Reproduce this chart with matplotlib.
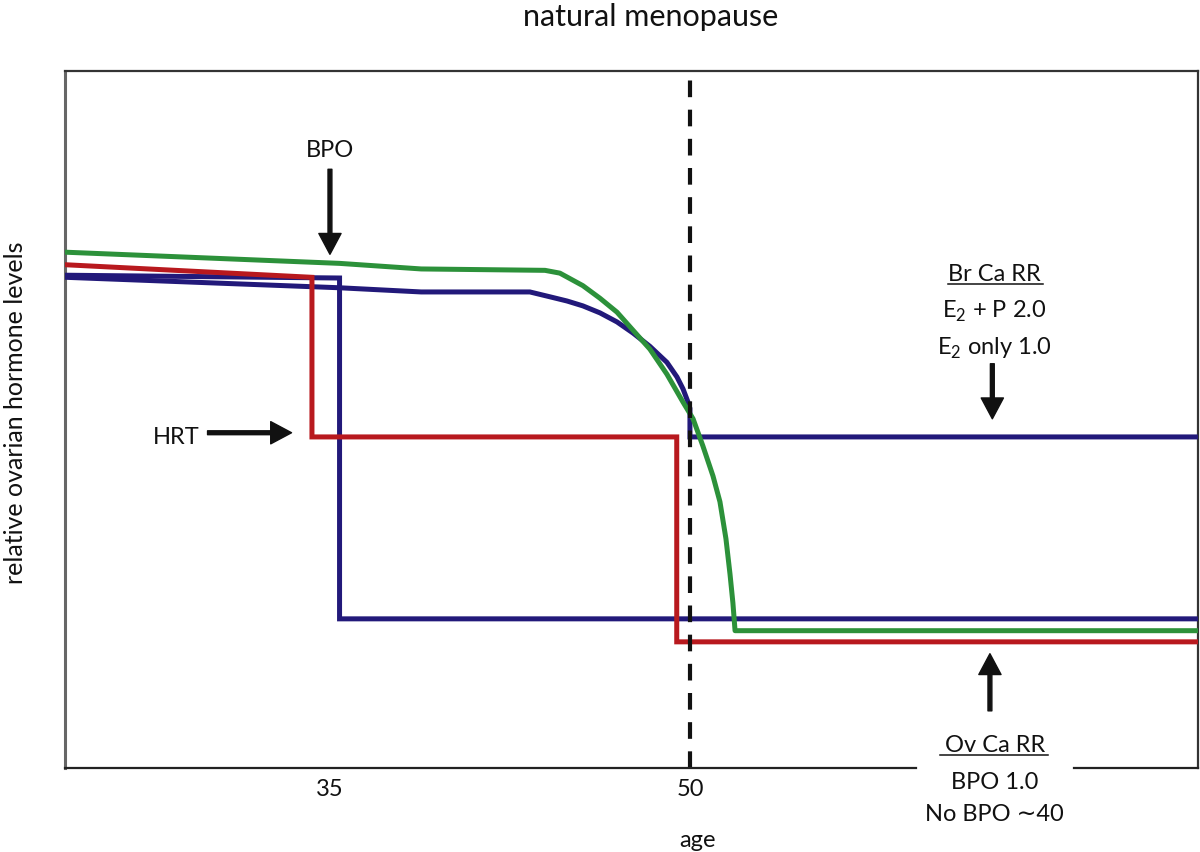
import matplotlib
matplotlib.use("Agg")
import matplotlib.pyplot as plt

plt.rcParams['font.family'] = ['Lato', 'DejaVu Sans']
plt.rcParams['mathtext.fontset'] = 'custom'
plt.rcParams['mathtext.rm'] = 'Lato'
plt.rcParams['lines.scale_dashes'] = False

# age (years) vs relative ovarian hormone level (0-100)
green_age = [24.0, 35.4, 38.8, 43.96, 44.58, 45.54, 46.25, 46.96, 47.63, 48.33, 49.04,
             49.71, 50.13, 50.54, 50.96, 51.25, 51.5, 51.67, 51.79, 51.88, 71.2]
green_lvl = [74.0, 72.4, 71.6, 71.4, 71.0, 69.2, 67.4, 65.4, 62.8, 60.1, 56.5,
             52.5, 50.1, 46.2, 41.9, 38.2, 32.9, 27.8, 23.7, 19.7, 19.7]

blue_nat_age = [24.0, 35.4, 38.8, 43.33, 44.17, 44.88, 45.54, 46.25, 46.96, 47.63, 48.33,
                49.04, 49.46, 49.71, 49.92, 50.0, 50.0, 71.2]
blue_nat_lvl = [70.4, 68.9, 68.3, 68.3, 67.6, 67.0, 66.3, 65.3, 64.0, 62.4, 60.5,
                58.2, 56.1, 54.4, 52.5, 51.6, 47.5, 47.5]

blue_bpo_age = [24.0, 35.4, 35.4, 71.2]
blue_bpo_lvl = [70.7, 70.3, 21.4, 21.4]

red_age = [24.0, 34.25, 34.25, 49.45, 49.45, 71.2]
red_lvl = [72.2, 70.4, 47.5, 47.5, 18.1, 18.1]

menopause_age = 50
tick_ages = [35, 50]

GREEN = '#2C913A'
BLUE = '#22197A'
RED = '#B8191E'

fig = plt.figure(figsize=(12, 8.53), dpi=100)
ax = fig.add_axes([65 / 1200, 84 / 853, 1133 / 1200, 697 / 853])
ax.set_xlim(23.96, 71.17)
ax.set_ylim(0, 100)

lw = 3.6
ax.plot(blue_nat_age, blue_nat_lvl, color=BLUE, lw=lw, solid_joinstyle='miter', zorder=3)
ax.plot(blue_bpo_age, blue_bpo_lvl, color=BLUE, lw=lw, solid_joinstyle='miter', zorder=3)
ax.plot(red_age, red_lvl, color=RED, lw=lw, solid_joinstyle='miter', zorder=4)
ax.plot(green_age, green_lvl, color=GREEN, lw=lw, solid_joinstyle='round', zorder=5)

ax.axvline(menopause_age, color='#111111', lw=3, dashes=(12, 9), zorder=6)

# axes frame
for side in ['top', 'right']:
    ax.spines[side].set_color('#333333')
    ax.spines[side].set_linewidth(1.6)
ax.spines['left'].set_color('#666666')
ax.spines['left'].set_linewidth(2.2)
ax.spines['bottom'].set_visible(False)
xmin, xmax = ax.get_xlim()
for seg in ([xmin, 59.4], [66.0, xmax]):
    ax.plot(seg, [0, 0], color='#222222', lw=1.6, clip_on=False, zorder=7)

ax.set_xticks(tick_ages)
ax.set_xticklabels([str(a) for a in tick_ages])
ax.set_yticks([])
ax.tick_params(axis='x', length=0, pad=7, labelsize=17, labelcolor='#111111')

ax.set_xlabel('age', fontsize=17, color='#111111')
ax.xaxis.set_label_coords(0.558, -0.088)
ax.set_ylabel('relative ovarian hormone levels', fontsize=18, color='#111111', va='center')
ax.yaxis.set_label_coords(-0.044, 0.511)

fig.text(651 / 1200, 1 - 26 / 853, 'natural menopause', ha='center', va='baseline',
         fontsize=22, color='#111111')

arrow = dict(width=2.8, headwidth=16, headlength=15, color='#111111', shrink=0)
txt = dict(fontsize=17, color='#111111', ha='center', va='center')

# BPO
ax.text(35.0, 88.8, 'BPO', **txt)
ax.annotate('', xy=(35.0, 73.7), xytext=(35.0, 85.9), arrowprops=arrow)

# HRT
ax.text(28.6, 47.6, 'HRT', **txt)
ax.annotate('', xy=(33.4, 48.1), xytext=(29.9, 48.1), arrowprops=arrow)

# breast cancer relative risk
ax.text(62.7, 70.9, 'Br Ca RR', **txt)
ax.plot([60.75, 64.7], [69.5, 69.5], color='#111111', lw=1.1)
ax.text(62.7, 65.6, r'E$_{2}$ + P 2.0', **txt)
ax.text(62.7, 60.4, r'E$_{2}$ only 1.0', **txt)
ax.annotate('', xy=(62.6, 50.1), xytext=(62.6, 58.0), arrowprops=arrow)

# ovarian cancer relative risk
ax.annotate('', xy=(62.5, 16.4), xytext=(62.5, 8.2), arrowprops=arrow)
ax.text(62.7, 3.4, 'Ov Ca RR', **txt)
ax.plot([60.4, 64.9], [1.9, 1.9], color='#111111', lw=1.1)
ax.text(62.7, -1.9, 'BPO 1.0', clip_on=False, **txt)
ax.text(62.7, -6.5, 'No BPO \u223c40', clip_on=False, **txt)

fig.savefig('out.png', dpi=100, facecolor='white')
